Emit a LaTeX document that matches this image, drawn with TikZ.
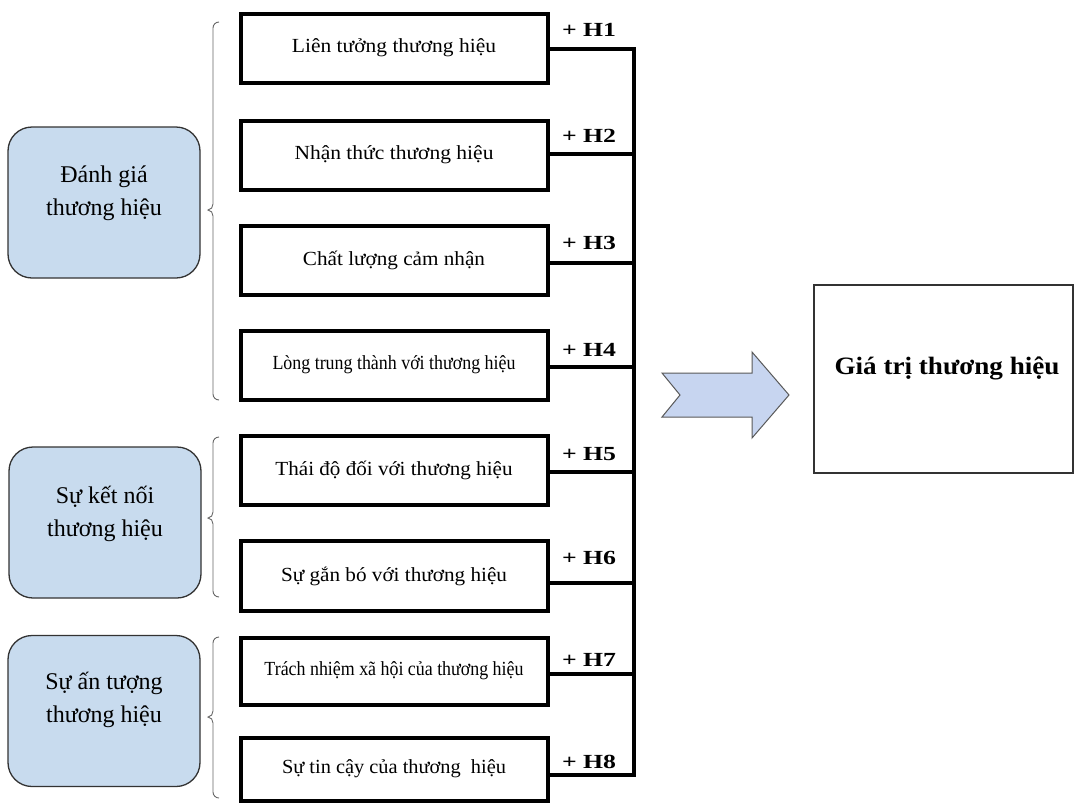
\documentclass[tikz,border=0pt]{standalone}
\usepackage{fontspec}
\setmainfont{Liberation Serif}
\usepackage{graphicx}
\newcommand{\fw}[2]{\resizebox{#1pt}{\height}{#2}}
\definecolor{catblue}{HTML}{C8DBEE}
\definecolor{arrblue}{HTML}{C7D5F0}
\tikzset{
  factor/.style={draw=black, line width=4pt, minimum width=307pt, inner sep=0pt, outer sep=0pt, fill=white,
    font=\fontsize{20}{24}\selectfont},
  cat/.style={draw=black!80, line width=1.3pt, rounded corners=24pt, fill=catblue, minimum width=192pt, minimum height=151pt, inner sep=0pt},
  cattext/.style={align=center, font=\fontsize{24}{33}\selectfont, inner sep=0pt},
  hlab/.style={font=\fontsize{20}{24}\selectfont\bfseries, inner sep=0pt},
  conn/.style={line width=3.6pt, black, line cap=rect, line join=miter},
  brk/.style={draw=black!60, line width=0.9pt},
  result/.style={draw=black!80, line width=1.3pt, minimum width=259pt, minimum height=188pt, inner sep=0pt},
}
\begin{document}
\begin{tikzpicture}[x=1pt,y=-1pt]
\useasboundingbox (0,0) rectangle (1076,809);
\fill[white] (0,0) rectangle (1076,809);

% factor boxes
\node[factor, minimum height=69pt] (b1) at (394,48) {\fw{204}{Liên tưởng thương hiệu}};
\node[factor, minimum height=69pt] (b2) at (394,155) {\fw{199}{Nhận thức thương hiệu}};
\node[factor, minimum height=69pt] (b3) at (394,260) {\fw{182}{Chất lượng cảm nhận}};
\node[factor, minimum height=69pt] (b4) at (394,365) {\fw{243}{Lòng trung thành với thương hiệu}};
\node[factor, minimum height=69pt] (b5) at (394,470) {\fw{237}{Thái độ đối với thương hiệu}};
\node[factor, minimum height=70pt] (b6) at (394,576) {\fw{226}{Sự gắn bó với thương hiệu}};
\node[factor, minimum height=67pt] (b7) at (394,671) {\fw{259}{Trách nhiệm xã hội của thương hiệu}};
\node[factor, minimum height=63pt] (b8) at (394,769) {\fw{224}{Sự tin cậy của thương\ \ hiệu}};

% bus coordinates
\coordinate (bus1) at (634,49);
\coordinate (bus2) at (634,154);
\coordinate (bus3) at (634,263);
\coordinate (bus4) at (634,367);
\coordinate (bus5) at (634,472);
\coordinate (bus6) at (634,583);
\coordinate (bus7) at (634,674);
\coordinate (bus8) at (634,775);

\draw[conn] (b1.east |- bus1) -- (bus1) -- (bus8) -- (b8.east |- bus8);
\foreach \i in {2,...,7}{
  \draw[conn] (b\i.east |- bus\i) -- (bus\i);
}

% labels
\node[hlab] (h1) at (589,30) {\fw{54}{+ H1}};
\node[hlab] (h2) at (589,136) {\fw{54}{+ H2}};
\node[hlab] (h3) at (589,243) {\fw{54}{+ H3}};
\node[hlab] (h4) at (589,350) {\fw{54}{+ H4}};
\node[hlab] (h5) at (589,454) {\fw{54}{+ H5}};
\node[hlab] (h6) at (589,558) {\fw{54}{+ H6}};
\node[hlab] (h7) at (589,660) {\fw{54}{+ H7}};
\node[hlab] (h8) at (589,762) {\fw{54}{+ H8}};

% category boxes
\node[cat] (ca) at (104,202.5) {};
\node[cattext] (cta) at ([yshift=9pt]ca.center) {Đánh giá\\thương hiệu};
\node[cat] (cb) at (105,522.5) {};
\node[cattext] (ctb) at ([yshift=9pt]cb.center) {Sự kết nối\\thương hiệu};
\node[cat] (cc) at (104,711) {};
\node[cattext] (ctc) at ([yshift=11pt]cc.center) {Sự ấn tượng\\thương hiệu};

% brackets
\draw[brk] (219,22) to[out=180,in=90] (213,28) -- (213,204) to[out=-90,in=0] (208,210) to[out=0,in=90] (213,216) -- (213,394) to[out=-90,in=180] (219,400);
\draw[brk] (219,437) to[out=180,in=90] (213,443) -- (213,512) to[out=-90,in=0] (208,518) to[out=0,in=90] (213,524) -- (213,591) to[out=-90,in=180] (219,597);
\draw[brk] (219,637) to[out=180,in=90] (213,643) -- (213,711) to[out=-90,in=0] (208,717) to[out=0,in=90] (213,723) -- (213,792) to[out=-90,in=180] (219,798);

% big arrow
\draw[draw=black!65, line width=1pt, fill=arrblue, line join=miter]
  (662,373) -- (752,373) -- (752,352) -- (789,395) -- (752,438) -- (752,417) -- (662,417) -- (680,395) -- cycle;

% result box
\node[result] (res) at (943.5,379) {};
\node[font=\fontsize{25}{28}\selectfont\bfseries, inner sep=0pt] (rest) at (947,368) {\fw{225}{Giá trị thương hiệu}};
\end{tikzpicture}
\end{document}
